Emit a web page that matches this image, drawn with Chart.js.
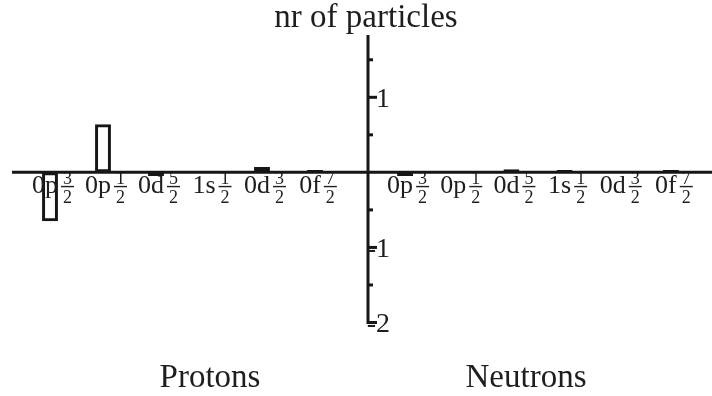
<!DOCTYPE html>
<html>
<head>
<meta charset="utf-8">
<script src="https://cdn.jsdelivr.net/npm/chart.js@4/dist/chart.umd.min.js"></script>
<style>
  html, body { margin: 0; padding: 0; background: #fff; }
  .wrap { position: relative; width: 712px; height: 396px; }
  .layer { position: absolute; left: 0; top: 0; width: 712px; height: 396px; }
</style>
</head>
<body>
<div class="wrap">
  <div class="layer"><canvas id="protons-chart"></canvas></div>
  <div class="layer"><canvas id="neutrons-chart"></canvas></div>
</div>
<script>
// single particle orbitals, j written as numerator / denominator
const orbitals = ['0p', '0p', '0d', '1s', '0d', '0f'];
const jNum = [3, 1, 5, 1, 3, 7];
const jDen = [2, 2, 2, 2, 2, 2];

// change in nr of particles per orbital
const protonValues = [-0.65, 0.64, -0.05, 0, 0.07, 0.03];
const neutronValues = [-0.05, 0, 0.04, 0.03, 0, 0.03];

// y axis
const yMin = -2;
const yMax = 1.83;
const labelledTicks = [1, -1, -2];
const minorTicks = [1.5, 0.5, -0.5, -1.5];

const labels = orbitals.map((o, i) => o + jNum[i] + '/' + jDen[i]);

const ink = '#161616';
const textInk = '#1e1e1e';
const serif = '"Liberation Serif", "DejaVu Serif", serif';

// orbital names with the stacked j fraction, hung under the zero line
const orbitalLabels = {
    id: 'orbitalLabels',
    afterDatasetsDraw(chart) {
        const { ctx, scales: { x, y } } = chart;
        const y0 = y.getPixelForValue(0);
        ctx.save();
        ctx.fillStyle = textInk;
        ctx.textBaseline = 'alphabetic';
        orbitals.forEach((name, i) => {
            ctx.font = '26px ' + serif;
            const wMain = ctx.measureText(name).width;
            ctx.font = '18px ' + serif;
            const wFrac = Math.max(ctx.measureText(String(jNum[i])).width,
                                   ctx.measureText(String(jDen[i])).width) + 4;
            const total = wMain + 3 + wFrac;
            const left = x.getPixelForValue(i) + 3 - total / 2;

            ctx.font = '26px ' + serif;
            ctx.textAlign = 'left';
            ctx.fillText(name, left, y0 + 21);

            const fx = left + wMain + 3 + wFrac / 2;
            ctx.font = '18px ' + serif;
            ctx.textAlign = 'center';
            ctx.fillText(String(jNum[i]), fx, y0 + 11.5);
            ctx.fillText(String(jDen[i]), fx, y0 + 31);
            ctx.fillRect(fx - wFrac / 2, y0 + 13.5, wFrac, 1.4);
        });
        ctx.restore();
    }
};

// zero line, central y axis and the titles
const centralAxis = {
    id: 'centralAxis',
    afterDraw(chart) {
        const { ctx, scales: { y } } = chart;
        const axisX = 368;
        const y0 = y.getPixelForValue(0);
        ctx.save();
        ctx.strokeStyle = ink;
        ctx.lineWidth = 3;
        ctx.lineCap = 'butt';

        ctx.beginPath();
        ctx.moveTo(12, y0);
        ctx.lineTo(712, y0);
        ctx.stroke();

        ctx.beginPath();
        ctx.moveTo(axisX, y.getPixelForValue(yMax));
        ctx.lineTo(axisX, y.getPixelForValue(yMin) + 1.5);
        ctx.stroke();

        minorTicks.forEach(v => {
            const py = y.getPixelForValue(v);
            ctx.beginPath();
            ctx.moveTo(axisX, py);
            ctx.lineTo(axisX + 5, py);
            ctx.stroke();
        });

        ctx.fillStyle = textInk;
        ctx.font = '28px ' + serif;
        ctx.textAlign = 'left';
        ctx.textBaseline = 'alphabetic';
        const dash = ctx.measureText('-').width;
        labelledTicks.forEach(v => {
            const py = y.getPixelForValue(v);
            ctx.beginPath();
            ctx.moveTo(axisX, py);
            ctx.lineTo(axisX + 9, py);
            ctx.stroke();
            const tx = 376 - (v < 0 ? dash : 0);
            ctx.fillText(String(v), tx, py + 9.5);
        });

        ctx.font = '33px ' + serif;
        ctx.textAlign = 'center';
        ctx.fillText('nr of particles', 366, 27);
        ctx.fillText('Protons', 210, 387);
        ctx.fillText('Neutrons', 526, 387);
        ctx.restore();
    }
};

function makeChart(canvasId, values, padLeft, padRight, extraPlugins) {
    const canvas = document.getElementById(canvasId);
    return new Chart(canvas.getContext('2d'), {
        type: 'bar',
        data: {
            labels: labels,
            datasets: [{
                data: values,
                backgroundColor: 'rgba(0, 0, 0, 0)',
                borderColor: ink,
                borderWidth: 3,
                borderSkipped: false,
                barPercentage: 0.3,
                categoryPercentage: 1
            }]
        },
        options: {
            responsive: true,
            maintainAspectRatio: false,
            animation: false,
            layout: { padding: { left: padLeft, right: padRight, top: 35, bottom: 73.5 } },
            plugins: {
                legend: { display: false },
                tooltip: { enabled: false }
            },
            scales: {
                x: { display: false },
                y: { display: false, min: yMin, max: yMax }
            }
        },
        plugins: extraPlugins
    });
}

makeChart('protons-chart', protonValues, 23.5, 370.5, [orbitalLabels]);
makeChart('neutrons-chart', neutronValues, 378.5, 14.5, [orbitalLabels, centralAxis]);
</script>
</body>
</html>
